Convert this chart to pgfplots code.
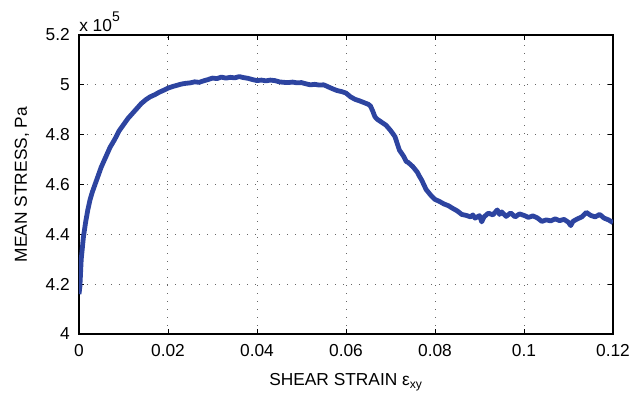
\documentclass[border=0pt]{standalone}
\usepackage{pgfplots}
\pgfplotsset{compat=1.18}
\usepackage{fontspec}
\setmainfont{Liberation Sans}
\definecolor{curve}{RGB}{45,68,160}
\begin{document}
\begin{tikzpicture}
\begin{axis}[
  scale only axis, width=400.5pt, height=224.25pt,
  xmin=0, xmax=0.12, ymin=4, ymax=5.2,
  xtick={0,0.02,0.04,0.06,0.08,0.1,0.12},
  xticklabels={0,0.02,0.04,0.06,0.08,0.1,0.12},
  ytick={4,4.2,4.4,4.6,4.8,5,5.2},
  yticklabels={4,4.2,4.4,4.6,4.8,5,5.2},
  scaled x ticks=false, scaled y ticks=false,
  tick align=inside, tick pos=both,
  major tick length=3.75pt,
  grid=major,
  major grid style={dash pattern=on 0.75pt off 5.25pt, black!60, line width=0.75pt},
  axis line style={line width=0.9pt},
  tick style={line width=0.6pt, black},
  ticklabel style={font=\fontsize{13}{15}\selectfont, inner sep=0pt},
  xticklabel style={anchor=base, yshift=-17.25pt},
  yticklabel style={anchor=east, xshift=-6.75pt},
  label style={font=\fontsize{13}{15}\selectfont, inner sep=0pt},
  xlabel={SHEAR STRAIN ε\textsubscript{xy}},
  ylabel={MEAN STRESS, Pa},
  xlabel style={at={(axis description cs:0.5,-0.1739)}, anchor=base},
  ylabel style={at={(axis description cs:-0.0974,0.5)}, anchor=base, rotate=0},
  clip mode=individual,
]
\addplot[curve, line width=3.6pt, line join=round] coordinates {
(0,4.16) (0.0002,4.19) (0.0005,4.30) (0.001,4.39) (0.0015,4.45) (0.002,4.50)
(0.0025,4.54) (0.003,4.57) (0.0035,4.595) (0.004,4.62) (0.0045,4.645) (0.005,4.67)
(0.006,4.71) (0.007,4.75) (0.008,4.78) (0.009,4.815) (0.010,4.84) (0.011,4.865)
(0.012,4.885) (0.013,4.905) (0.014,4.925) (0.015,4.94) (0.016,4.952) (0.017,4.96)
(0.018,4.97) (0.019,4.978) (0.020,4.987) (0.021,4.993) (0.022,4.998) (0.023,5.003)
(0.024,5.006) (0.025,5.008) (0.026,5.012) (0.027,5.010) (0.028,5.016) (0.029,5.021)
(0.030,5.027) (0.031,5.025) (0.032,5.031) (0.033,5.027) (0.034,5.030) (0.035,5.028)
(0.036,5.033) (0.037,5.029) (0.038,5.026) (0.039,5.021) (0.040,5.017) (0.041,5.019)
(0.042,5.016) (0.043,5.019) (0.044,5.017) (0.045,5.012) (0.046,5.010) (0.047,5.009)
(0.048,5.011) (0.049,5.008) (0.050,5.009) (0.051,5.004) (0.052,5.000) (0.053,5.002)
(0.054,4.999) (0.055,5.000) (0.056,4.992) (0.057,4.984) (0.058,4.977) (0.059,4.973)
(0.060,4.967) (0.061,4.952) (0.062,4.942) (0.063,4.936) (0.064,4.929) (0.065,4.922)
(0.0655,4.915) (0.066,4.895) (0.0665,4.872) (0.067,4.862) (0.068,4.850) (0.069,4.838)
(0.070,4.817) (0.0705,4.805) (0.071,4.792) (0.0715,4.765) (0.072,4.738) (0.073,4.712)
(0.0735,4.693) (0.074,4.688) (0.075,4.672) (0.076,4.650) (0.0765,4.633) (0.077,4.618)
(0.078,4.580) (0.079,4.558) (0.080,4.540) (0.081,4.532) (0.082,4.522) (0.083,4.515)
(0.084,4.504) (0.085,4.494) (0.086,4.480) (0.087,4.476) (0.088,4.470) (0.0885,4.478)
(0.089,4.465) (0.090,4.475) (0.0905,4.450) (0.091,4.470) (0.092,4.485) (0.093,4.478)
(0.094,4.498) (0.0945,4.480) (0.095,4.490) (0.096,4.472) (0.097,4.486) (0.098,4.470)
(0.099,4.482) (0.100,4.476) (0.101,4.468) (0.102,4.474) (0.103,4.466) (0.104,4.452)
(0.105,4.458) (0.106,4.454) (0.107,4.462) (0.108,4.455) (0.109,4.460) (0.110,4.448)
(0.1105,4.435) (0.111,4.452) (0.112,4.462) (0.113,4.470) (0.114,4.488) (0.115,4.476)
(0.116,4.470) (0.117,4.480) (0.118,4.465) (0.119,4.458) (0.120,4.447)
};
\node[anchor=base west, font=\fontsize{13}{15}\selectfont, inner sep=0pt, yshift=2.25pt] at (rel axis cs:0,1) {x 10\raisebox{7.5pt}{\fontsize{10.5}{10.5}\selectfont 5}};
\end{axis}
\pgfresetboundingbox
\path[use as bounding box] (-59.25pt,-46.5pt) rectangle (414.75pt,250.5pt);
\end{tikzpicture}
\end{document}
